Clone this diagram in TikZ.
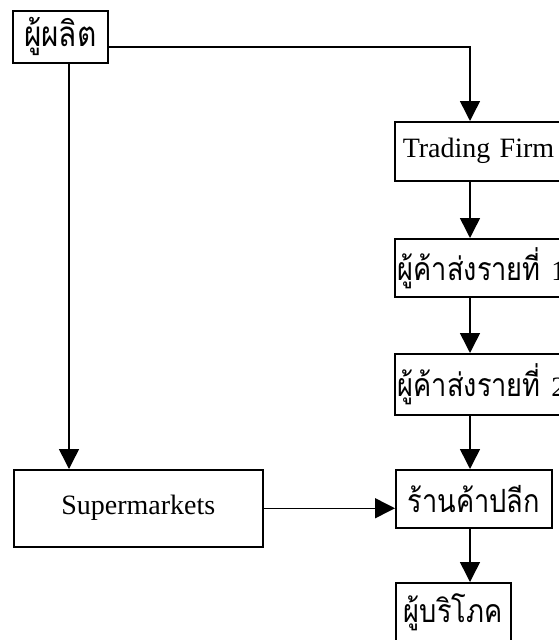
\documentclass[tikz,border=0pt]{standalone}
\usepackage{fontspec}
\setmainfont{Liberation Serif}
\newfontfamily\thai[Script=Thai, FakeStretch=0.85]{Loma}
\usetikzlibrary{arrows.meta}
\begin{document}
\begin{tikzpicture}[x=1pt,y=-1pt,
  box/.style={draw, line width=1.5pt, rectangle, anchor=north west, inner sep=0pt,
    font=\fontsize{28}{30}\selectfont},
  thaitext/.style={font=\thai\fontsize{32}{34}\selectfont},
  leftbox/.style={text width=220pt, align=left},
  conn/.style={line width=1.5pt, -{Triangle[width=20pt,length=20pt]}}]
\useasboundingbox (0,0) rectangle (559,640);
\clip (0,0) rectangle (559,640);
\coordinate (col) at (470,0);
\coordinate (col2) at (69,0);
\node[box, font=\thai\fontsize{35}{37}\selectfont, minimum width=95pt, minimum height=52pt] (producer) at (12,10) {ผู้ผลิต};
\node[box, leftbox, inner xsep=8pt, minimum height=59pt] (trading) at (394,121) {Trading Firm};
\node[box, thaitext, leftbox, inner xsep=3pt, minimum height=58pt] (w1) at (394,238) {ผู้ค้าส่งรายที่ {\rmfamily\fontsize{28}{30}\selectfont 1}};
\node[box, thaitext, leftbox, inner xsep=3pt, minimum height=61pt] (w2) at (394,353) {ผู้ค้าส่งรายที่ {\rmfamily\fontsize{28}{30}\selectfont 2}};
\node[box, thaitext, minimum width=156pt, minimum height=58pt] (retail) at (395,469) {ร้านค้าปลีก};
\node[box, thaitext, minimum width=115pt, minimum height=60pt] (consumer) at (395,582) {ผู้บริโภค};
\node[box, minimum width=249pt, minimum height=77pt] (super) at (13,469) {Supermarkets};
\draw[conn] ([yshift=-10pt]producer.east) -| (col |- trading.north);
\draw[conn] (producer.south -| col2) -- (super.north -| col2);
\draw[conn] (trading.south -| col) -- (w1.north -| col);
\draw[conn] (w1.south -| col) -- (w2.north -| col);
\draw[conn] (w2.south -| col) -- (retail.north -| col);
\draw[conn] (retail.south -| col) -- (consumer.north -| col);
\draw[conn] (super.east) -- (super.east -| retail.west);
\end{tikzpicture}
\end{document}
